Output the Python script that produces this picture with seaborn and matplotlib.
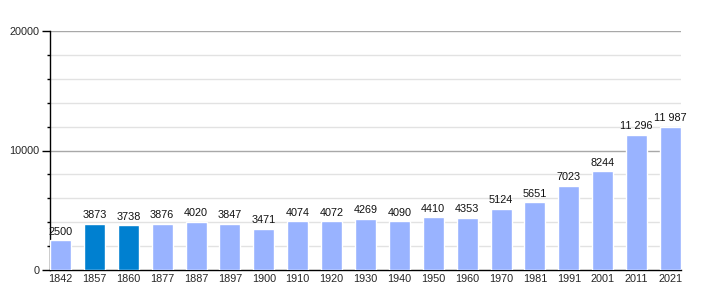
import matplotlib
matplotlib.use("Agg")
import matplotlib.pyplot as plt
import seaborn as sns
import pandas as pd
from matplotlib.ticker import MultipleLocator

years = ["1842", "1857", "1860", "1877", "1887", "1897", "1900", "1910", "1920", "1930",
         "1940", "1950", "1960", "1970", "1981", "1991", "2001", "2011", "2021"]
population = [2500, 3873, 3738, 3876, 4020, 3847, 3471, 4074, 4072, 4269,
              4090, 4410, 4353, 5124, 5651, 7023, 8244, 11296, 11987]
highlight = [False, True, True] + [False] * 16
y_ticks = [0, 10000, 20000]

df = pd.DataFrame({"year": years, "pop": population, "hl": highlight})

sns.set_style("white")
plt.rcParams["font.family"] = ["Liberation Sans", "DejaVu Sans"]

fig = plt.figure(figsize=(7.1, 3.0), dpi=100)
ax = fig.add_axes([50 / 710, 30 / 300, 631 / 710, 239 / 300])

sns.barplot(data=df, x="year", y="pop", hue="hl", dodge=False, width=0.62,
            palette={False: "#99b3ff", True: "#0080d0"}, legend=False, ax=ax,
            saturation=1, zorder=3)

ax.set_ylim(0, 20000)
ax.set_xlim(-0.31, len(years) - 1 + 0.31)
ax.set_yticks(y_ticks)
ax.set_yticklabels([str(t) for t in y_ticks])
ax.yaxis.set_minor_locator(MultipleLocator(2000))

for v in range(2000, 20001, 2000):
    if v % 10000 == 0:
        ax.axhline(v, color="#a8a8a8", lw=1, zorder=1)
    else:
        ax.axhline(v, color="#e2e2e2", lw=1, zorder=1)

for i, v in enumerate(population):
    label = f"{v:,}".replace(",", " ") if v >= 10000 else str(v)
    ax.text(i, v + 300, label, ha="center", va="bottom", fontsize=7.8, color="#111111")

ax.set_xlabel("")
ax.set_ylabel("")
for s in ["top", "right"]:
    ax.spines[s].set_visible(False)
ax.spines["left"].set_color("black")
ax.spines["bottom"].set_color("black")
ax.spines["left"].set_linewidth(1)
ax.spines["bottom"].set_linewidth(1)
ax.tick_params(axis="y", which="major", length=6, width=1, left=True, labelsize=7.8, pad=1.5, color="black")
ax.tick_params(axis="y", which="minor", length=2, width=1, left=True, color="black")
ax.tick_params(axis="x", length=0, labelsize=7.8, pad=3)

fig.savefig("out.png", dpi=100)
